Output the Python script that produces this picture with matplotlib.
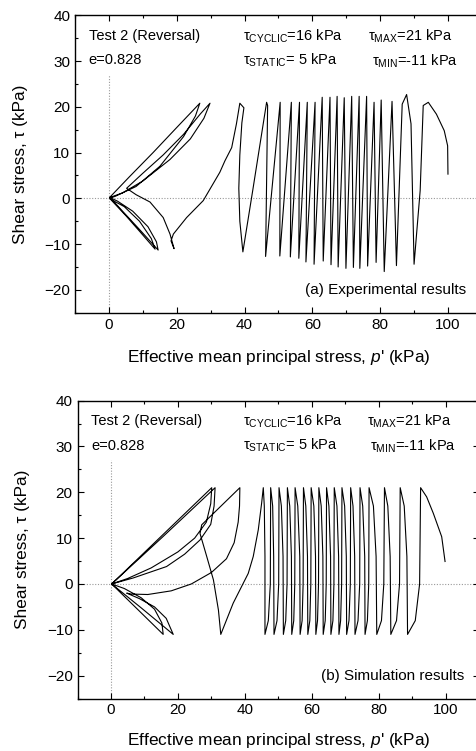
import matplotlib
matplotlib.use("Agg")
import matplotlib.pyplot as plt
from matplotlib.ticker import MultipleLocator

plt.rcParams['font.family'] = ['Liberation Sans', 'DejaVu Sans']
plt.rcParams['mathtext.fontset'] = 'custom'
plt.rcParams['mathtext.rm'] = 'Liberation Sans'
plt.rcParams['mathtext.it'] = 'Liberation Sans:italic'
plt.rcParams['mathtext.bf'] = 'Liberation Sans:bold'

# ---------------- Experimental stress path (time order) ----------------
exp_p = [100.0, 99.9, 98.9, 96.6, 94.2, 92.7, 91.8, 90.0, 89.1, 87.8, 86.5,
         84.8, 83.5, 81.2, 80.3, 78.8, 78.2, 76.3, 76.0, 74.0, 73.8, 72.1,
         71.6, 69.9, 69.4, 67.6, 67.3, 65.5, 65.2, 63.2, 62.9, 60.5, 60.8,
         58.1, 58.5, 56.0, 56.2, 53.5, 53.8, 50.4, 50.5, 46.2, 46.8, 46.5,
         42.4, 39.5, 38.6, 38.3, 38.6, 39.2, 39.8, 38.6, 37.6, 36.2, 34.2,
         32.7, 27.8, 22.9, 19.0, 18.3, 19.2, 18.0, 16.0, 12.1, 8.0, 5.2,
         10.0, 16.0, 22.0, 27.0, 29.8, 28.0, 24.0, 18.0, 10.0, 4.0, 0.3,
         4.0, 9.0, 14.5, 14.0, 11.5, 7.0, 2.5, 0.2, 6.0, 13.0, 20.0, 26.8,
         25.5, 22.0, 15.0, 8.0, 2.0, 0.2, 5.0, 9.5, 13.6, 12.5, 9.0, 4.5, 0.5]
exp_tau = [5.3, 11.5, 14.8, 18.4, 21.0, 20.3, 1.7, -14.4, 16.3, 22.7, 20.6,
           -14.7, 21.2, -16.0, 21.5, -14.0, 21.0, -14.8, 22.3, -15.3, 22.3, -15.1,
           22.3, -15.3, 22.0, -15.0, 22.3, -14.5, 22.1, -13.7, 22.1, -14.4, 21.0,
           -13.9, 21.0, -13.1, 21.0, -12.8, 21.0, -12.6, 21.0, -12.7, 20.3, 21.0,
           1.7, -11.7, -5.0, 2.2, 9.5, 16.5, 19.8, 20.8, 16.3, 11.1, 8.2,
           5.7, -0.5, -4.2, -7.8, -9.3, -11.0, -7.8, -4.2, -0.8, 0.8, 2.2,
           5.5, 9.5, 14.0, 18.5, 20.8, 17.5, 13.0, 8.5, 3.8, 1.2, 0.2,
           -2.8, -6.8, -11.3, -9.5, -6.2, -2.8, -0.6, 0.2, 4.7, 10.0, 15.5, 20.8,
           18.0, 13.5, 7.0, 2.6, 0.5, 0.0, -3.8, -7.6, -11.1, -8.8, -5.0, -1.8, -0.2]

# ---------------- Simulation stress path ----------------
sim_start_p = [99.8, 98.8, 96.3, 94.3]
sim_start_tau = [4.9, 10.3, 15.4, 19.0]
sim_peak_p = [92.5, 86.4, 81.7, 77.1, 74.4, 71.6, 69.0, 66.7, 64.4, 62.1,
              59.8, 57.5, 55.0, 52.7, 50.2, 47.7, 45.5]
sim_trough_p = [88.6, 83.6, 79.4, 75.9, 72.9, 70.4, 68.1, 65.7, 63.4, 61.2,
                58.8, 56.5, 54.0, 51.5, 48.7, 46.0]
# knees of the unloading branch (peak -> trough)
sim_unload_k1_p = [92.2, 86.2, 81.5, 77.0, 74.3, 71.5, 68.9, 66.6, 64.3, 62.0,
                   59.7, 57.4, 54.9, 52.6, 50.1, 47.6]
sim_unload_k2_p = [90.9, 85.3, 80.8, 76.6, 73.8, 71.1, 68.6, 66.3, 64.0, 61.7,
                   59.4, 57.1, 54.6, 52.2, 49.6, 47.0]
# knees of the loading branch (trough -> next peak)
sim_load_k1_p = [88.4, 83.4, 79.2, 75.8, 72.8, 70.3, 68.0, 65.6, 63.3, 61.1,
                 58.7, 56.4, 53.9, 51.4, 48.6, 46.0]
sim_load_k2_p = [87.6, 82.7, 78.4, 75.2, 72.3, 69.8, 67.5, 65.1, 62.8, 60.6,
                 58.2, 55.8, 53.4, 50.9, 48.3, 45.8]
sim_tau_max = 21.0
sim_tau_min = -11.0
sim_unload_k_tau = [0.0, -8.0]
sim_load_k_tau = [6.0, 17.0]
sim_end_p = [45.0, 44.0, 42.5, 41.0, 36.5, 32.8,
             32.1, 30.6, 28.6, 26.6, 27.1, 38.5,
             38.4, 38.0, 36.8, 34.5, 30.0, 24.0, 18.0, 11.0, 6.0, 4.7,
             8.5, 13.0, 16.5, 18.6,
             9.0, 0.2,
             15.5, 31.1,
             30.8, 29.8, 26.6, 22.0, 16.6, 6.6, 0.2,
             15.6,
             15.2, 13.0, 9.0, 4.0, 0.2,
             30.1,
             29.8, 28.5, 25.0, 20.0, 12.0, 5.0, 0.2]
sim_end_tau = [17.6, 11.8, 6.0, 2.3, -4.2, -11.0,
               -5.7, 0.9, 6.0, 11.0, 12.9, 21.0,
               17.0, 13.5, 9.0, 5.5, 2.5, 0.0, -1.5, -2.3, -2.2, -2.0,
               -3.2, -5.0, -7.5, -11.0,
               -5.2, 0.0,
               10.3, 21.0,
               17.0, 13.0, 9.6, 6.5, 3.8, 1.3, 0.0,
               -11.0,
               -8.5, -5.5, -3.0, -1.0, 0.0,
               21.0,
               17.5, 13.5, 10.0, 7.0, 3.5, 1.2, 0.0]

sim_p = list(sim_start_p)
sim_tau = list(sim_start_tau)
for k in range(len(sim_trough_p)):
    sim_p += [sim_peak_p[k], sim_unload_k1_p[k], sim_unload_k2_p[k], sim_trough_p[k],
              sim_load_k1_p[k], sim_load_k2_p[k]]
    sim_tau += [sim_tau_max, sim_unload_k_tau[0], sim_unload_k_tau[1], sim_tau_min,
                sim_load_k_tau[0], sim_load_k_tau[1]]
sim_p.append(sim_peak_p[-1])
sim_tau.append(sim_tau_max)
sim_p += sim_end_p
sim_tau += sim_end_tau

x_ticks = [0, 20, 40, 60, 80, 100]
y_ticks = [-20, -10, 0, 10, 20, 30, 40]

ann_left = ["Test 2 (Reversal)", "e=0.828"]
ann_mid = [r"τ$_\mathregular{CYCLIC}$=16 kPa", r"τ$_\mathregular{STATIC}$= 5 kPa"]
ann_right = [r"τ$_\mathregular{MAX}$=21 kPa", r"τ$_\mathregular{MIN}$=-11 kPa"]
panel_titles = ["(a) Experimental results", "(b) Simulation results"]

fig = plt.figure(figsize=(4.77, 7.51), dpi=100)
ax1 = fig.add_axes([0.1574, 0.5836, 0.8528, 0.3959])
ax2 = fig.add_axes([0.1625, 0.0698, 0.8421, 0.3968])

FS = 10.5
TFS = 11
LFS = 12.4
for ax, (px, ty), title, xpad in [(ax1, (exp_p, exp_tau), panel_titles[0], 11.5),
                                  (ax2, (sim_p, sim_tau), panel_titles[1], 9.5)]:
    ax.set_xlim(-10, 110)
    ax.set_ylim(-25, 40)
    ax.axhline(0, color='#999999', ls=(0, (1, 1.5)), lw=0.8, zorder=1)
    ax.plot([0, 0], [-25, 27], color='#999999', ls=(0, (1, 1.5)), lw=0.8, zorder=1)
    ax.plot(px, ty, color='black', lw=0.8, zorder=2)
    ax.set_xticks(x_ticks)
    ax.set_yticks(y_ticks)
    ax.xaxis.set_minor_locator(MultipleLocator(10))
    ax.yaxis.set_minor_locator(MultipleLocator(5))
    ax.tick_params(which='both', direction='in', top=True, right=True,
                   labelsize=TFS, width=0.8)
    ax.tick_params(which='major', length=4)
    ax.tick_params(which='minor', length=2.5)
    for s in ax.spines.values():
        s.set_linewidth(1.0)
    ax.set_xlabel("Effective mean principal stress, $\\it{p}$' (kPa)", fontsize=LFS, labelpad=xpad)
    ax.set_ylabel("Shear stress, τ (kPa)", fontsize=LFS, labelpad=12)
    ax.text(-6, 35.5, ann_left[0], fontsize=FS, va='center', ha='left')
    ax.text(-6, 30.2, ann_left[1], fontsize=FS, va='center', ha='left')
    ax.text(39.5, 35.5, ann_mid[0], fontsize=FS, va='center', ha='left')
    ax.text(39.5, 30.2, ann_mid[1], fontsize=FS, va='center', ha='left')
    ax.text(76.5, 35.5, ann_right[0], fontsize=FS, va='center', ha='left')
    ax.text(77.5, 30.0, ann_right[1], fontsize=FS, va='center', ha='left')
    ax.text(105.5, -20, title, fontsize=FS + 0.5, va='center', ha='right')

fig.savefig("out.png", dpi=100)
